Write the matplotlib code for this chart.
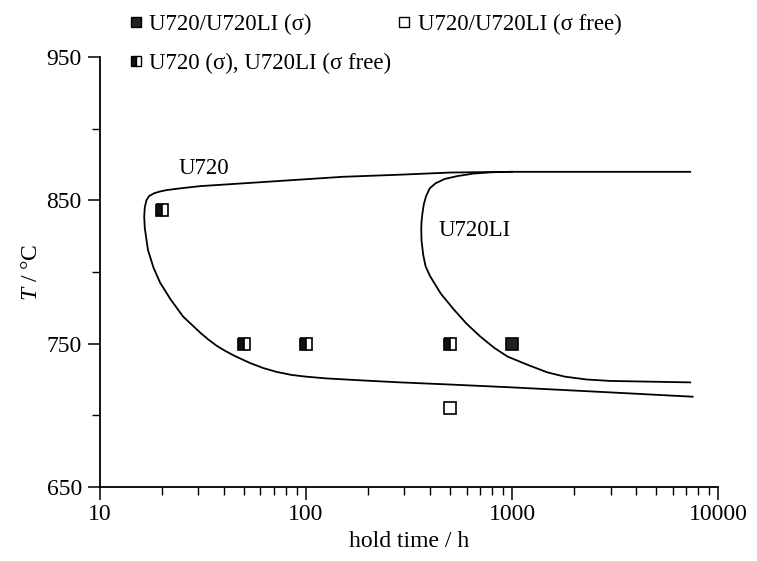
import matplotlib
matplotlib.use("Agg")
import matplotlib.pyplot as plt
from matplotlib.lines import Line2D
from matplotlib.ticker import MultipleLocator, LogLocator, NullFormatter

plt.rcParams['font.family'] = ['Liberation Serif', 'DejaVu Serif']
plt.rcParams['mathtext.fontset'] = 'custom'
plt.rcParams['mathtext.it'] = 'Liberation Serif:italic'
plt.rcParams['mathtext.rm'] = 'Liberation Serif'

# Curva U720 (rama superior -> nariz -> rama inferior)
u720_t = [7300, 3000, 1000, 500, 286, 150, 64, 30.6, 24, 21, 19.6, 18.3, 17.3, 16.8, 16.5,
          16.4, 16.5, 16.8, 17.1, 18.2, 19.6, 22, 25.3, 30.5, 33.5, 36.9, 40.5, 45, 53.5, 62,
          72, 85, 100, 125, 180, 286, 500, 1000, 3000, 7500]
u720_T = [870, 870, 870, 869.5, 868, 866.5, 863, 860, 858.3, 857.2, 856.3, 855, 853, 850, 845,
          838.5, 831, 823, 815.5, 803, 792.5, 781, 769, 758, 753, 748.5, 745, 741.5, 736.5, 733,
          730.3, 728.2, 727, 725.8, 724.5, 723, 721.5, 719.5, 716, 713]

# Curva U720LI
u720li_t = [1000, 800, 650, 541, 470, 425, 398, 382, 372, 366, 363, 362, 363, 370, 380, 400,
            450, 520, 600, 700, 820, 950, 1200, 1480, 1800, 2300, 3000, 7300]
u720li_T = [870, 869.7, 868.8, 867, 865, 862, 858.5, 853, 847, 840, 835, 830, 822, 812, 804, 797,
            785, 774, 764, 755, 747, 741, 735, 730, 727, 725, 724, 723]

# Puntos experimentales
mixto_t = [20, 50, 100, 500]          # U720 (sigma), U720LI (sigma free)
mixto_T = [843, 750, 750, 750]
sigma_t = [1000]                      # U720/U720LI (sigma)
sigma_T = [750]
libre_t = [500]                       # U720/U720LI (sigma free)
libre_T = [705]

fig = plt.figure(figsize=(7.57, 5.61), dpi=100)
ax = fig.add_axes([0.132, 0.132, 0.817, 0.766])

ax.plot(u720_t, u720_T, color='black', lw=1.3)
ax.plot(u720li_t, u720li_T, color='black', lw=1.3)

ms = 8.5
ax.plot(mixto_t, mixto_T, ls='none', marker='s', ms=ms, fillstyle='left',
        markerfacecolor='#111111', markerfacecoloralt='white', markeredgecolor='black', mew=1.2)
ax.plot(sigma_t, sigma_T, ls='none', marker='s', ms=ms, color='#222222', mec='black', mew=1.2)
ax.plot(libre_t, libre_T, ls='none', marker='s', ms=ms, mfc='white', mec='black', mew=1.2)

ax.text(24, 872, 'U720', fontsize=16.5, va='center')
ax.text(440, 829, 'U720LI', fontsize=16.5, va='center')

ax.set_xscale('log')
ax.set_xlim(10, 10000)
ax.set_ylim(650, 950)
ax.set_xticks([10, 100, 1000, 10000])
ax.set_xticklabels(['10', '100', '1000', '10000'])
ax.xaxis.set_minor_locator(LogLocator(base=10, subs=range(2, 10)))
ax.xaxis.set_minor_formatter(NullFormatter())
ax.set_yticks([650, 750, 850, 950])
ax.yaxis.set_minor_locator(MultipleLocator(50))

for s in ['top', 'right']:
    ax.spines[s].set_visible(False)
for s in ['left', 'bottom']:
    ax.spines[s].set_linewidth(1.3)

ax.tick_params(which='major', direction='out', length=9, width=1.1, labelsize=17)
ax.tick_params(which='minor', direction='out', length=6, width=1.0)
ax.tick_params(axis='y', pad=4)

ax.set_xlabel('hold time / h', fontsize=17, labelpad=4)
ax.set_ylabel('$T$ / °C', fontsize=17, labelpad=3)

# Leyenda
h_sigma = Line2D([], [], ls='none', marker='s', ms=7, color='#222222', mec='black')
h_libre = Line2D([], [], ls='none', marker='s', ms=7, mfc='white', mec='black')
h_mixto = Line2D([], [], ls='none', marker='s', ms=7, fillstyle='left',
                 markerfacecolor='#111111', markerfacecoloralt='white', markeredgecolor='black')
fig.legend([h_sigma, h_mixto, h_libre],
           ['U720/U720LI (σ)', 'U720 (σ), U720LI (σ free)', 'U720/U720LI (σ free)'],
           ncol=2, loc='upper left', bbox_to_anchor=(0.152, 1.0), frameon=False,
           fontsize=16.5, handlelength=0.6, handletextpad=0.3, labelspacing=0.8,
           columnspacing=0.25, borderaxespad=0.2)

fig.savefig('out.png', dpi=100)
